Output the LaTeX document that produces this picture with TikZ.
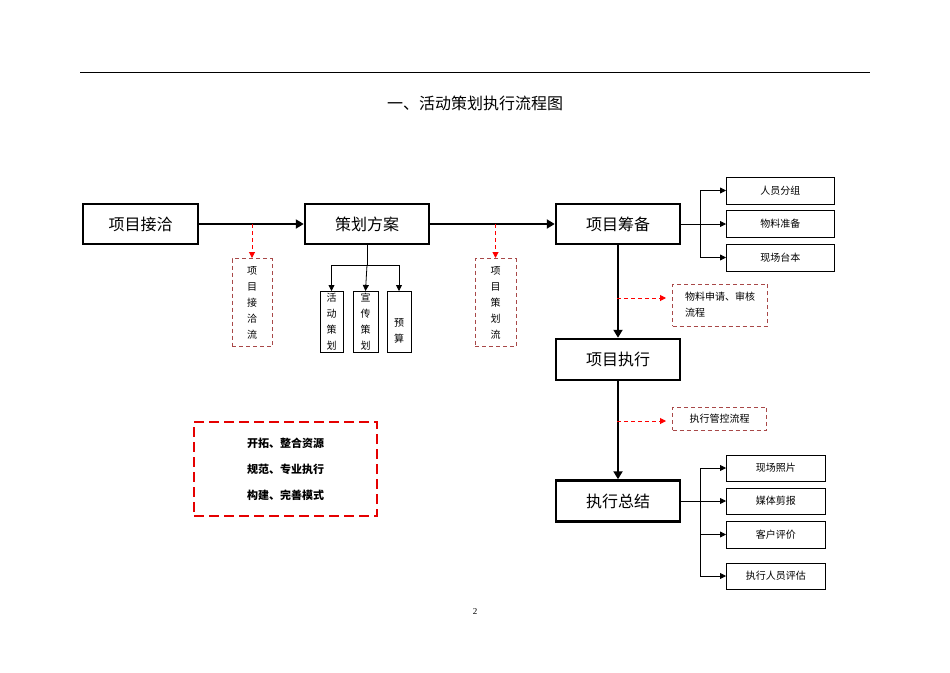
\documentclass[tikz,border=0pt]{standalone}
\usepackage{fontspec}
\setmainfont{Liberation Serif}
\newfontfamily\cjk{Noto Sans CJK SC}
\usetikzlibrary{arrows.meta}
\definecolor{dred}{HTML}{A84848}
\begin{document}
\begin{tikzpicture}[x=1pt,y=-1pt,
 mainbox/.style={draw,line width=2.5pt,font=\cjk\fontsize{16}{16}\selectfont},
 subbox/.style={draw,line width=0.8pt,font=\cjk\fontsize{10}{10}\selectfont},
 vbox/.style={draw,line width=0.8pt,font=\cjk\fontsize{10}{16}\selectfont,align=center},
 dbox/.style={draw=dred,dash pattern=on 4pt off 3pt,line width=1pt,font=\cjk\fontsize{10}{16}\selectfont},
 thick arr/.style={line width=2.5pt,-{Triangle[length=8pt,width=9pt]}},
 thin arr/.style={line width=0.8pt,-{Triangle[length=6pt,width=6pt]}},
 red arr/.style={red,dash pattern=on 4pt off 3pt,line width=1pt,-{Triangle[length=6pt,width=6pt]}}]
\useasboundingbox (0,0) rectangle (950,672);
\draw[line width=0.6pt] (80,72) -- (870,72);
\node[font=\cjk\fontsize{16}{16}\selectfont] (title) at (475,103) {一、活动策划执行流程图};
% main boxes
\node[mainbox,minimum width=115pt,minimum height=40pt] (a) at (140.5,224) {项目接洽};
\node[mainbox,minimum width=124pt,minimum height=40pt] (b) at (367,224) {策划方案};
\node[mainbox,minimum width=124pt,minimum height=40pt] (c) at (618,224) {项目筹备};
\node[mainbox,minimum width=124pt,minimum height=41pt] (d) at (618,359.5) {项目执行};
\node[mainbox,minimum width=124pt,minimum height=41pt] (e) at (618,501) {执行总结};
\draw[thick arr] (a) -- (b);
\draw[thick arr] (b) -- (c);
\draw[thick arr] (c) -- (d);
\draw[thick arr] (d) -- (e);
% dashed vertical boxes
\node[dbox,minimum width=40pt,minimum height=88pt,anchor=north,inner sep=2pt,align=center] (f1) at (252,258) {项\\目\\接\\洽\\流};
\node[dbox,minimum width=41pt,minimum height=88pt,anchor=north,inner sep=2pt,align=center] (f2) at (495.5,258) {项\\目\\策\\划\\流};
\coordinate (a1) at (252,224); \coordinate (b1) at (495.5,224);
\draw[red arr] (a1) -- (f1.north);
\draw[red arr] (b1) -- (f2.north);
% plan sub boxes
\node[vbox,minimum width=23pt,minimum height=61pt,anchor=north,inner sep=1pt] (p1) at (331.5,291) {活\\动\\策\\划};
\node[vbox,minimum width=25pt,minimum height=61pt,anchor=north,inner sep=1pt] (p2) at (365.5,291) {宣\\传\\策\\划};
\node[vbox,minimum width=24pt,minimum height=61pt,anchor=north,inner sep=1pt,text height=42pt] (p3) at (399,291) {预\\算};
\coordinate (bj) at (367,265);
\draw[line width=0.8pt] (b.south) -- (bj);
\draw[thin arr] (bj) -| (p1.north);
\draw[thin arr] (bj) -- (p2.north);
\draw[thin arr] (bj) -| (p3.north);
% prep sub boxes
\node[subbox,minimum width=108pt,minimum height=27pt,anchor=west] (c1) at (726,190.5) {人员分组};
\node[subbox,minimum width=108pt,minimum height=27pt,anchor=west] (c2) at (726,224) {物料准备};
\node[subbox,minimum width=108pt,minimum height=27pt,anchor=west] (c3) at (726,257.5) {现场台本};
\coordinate (cj) at (700,224);
\draw[line width=0.8pt] (c.east) -- (cj);
\draw[thin arr] (cj) |- (c1.west);
\draw[thin arr] (cj) -- (c2.west);
\draw[thin arr] (cj) |- (c3.west);
% dashed side boxes
\node[dbox,minimum width=95pt,minimum height=42pt,anchor=west,align=left,inner sep=4pt] (g1) at (672,305) {物料申请、审核\\流程};
\node[dbox,minimum width=94pt,minimum height=23pt,anchor=west,inner sep=3pt] (g2) at (672,418.5) {执行管控流程};
\coordinate (c4) at (617,298); \coordinate (d4) at (617,421);
\draw[red arr] (c4) -- (666,298);
\draw[red arr] (d4) -- (666,421);
% summary sub boxes
\node[subbox,minimum width=99pt,minimum height=26pt,anchor=west] (e1) at (726,468) {现场照片};
\node[subbox,minimum width=99pt,minimum height=26pt,anchor=west] (e2) at (726,501) {媒体剪报};
\node[subbox,minimum width=99pt,minimum height=27pt,anchor=west] (e3) at (726,534.5) {客户评价};
\node[subbox,minimum width=99pt,minimum height=26pt,anchor=west] (e4) at (726,576) {执行人员评估};
\coordinate (ej) at (700,501);
\draw[line width=0.8pt] (e.east) -- (ej);
\draw[thin arr] (ej) |- (e1.west);
\draw[thin arr] (ej) -- (e2.west);
\draw[thin arr] (ej) |- (e3.west);
\draw[thin arr] (ej) |- (e4.west);
% motto box
\node[draw=red!90!black,dash pattern=on 10pt off 5pt,line width=2.5pt,minimum width=183pt,minimum height=94pt,align=center,font=\cjk\bfseries\fontsize{11}{26}\selectfont] (m) at (285.5,469) {开拓、整合资源\\规范、专业执行\\构建、完善模式};
\node[font=\fontsize{9}{9}\selectfont] (pg) at (475,612) {2};
\end{tikzpicture}
\end{document}
